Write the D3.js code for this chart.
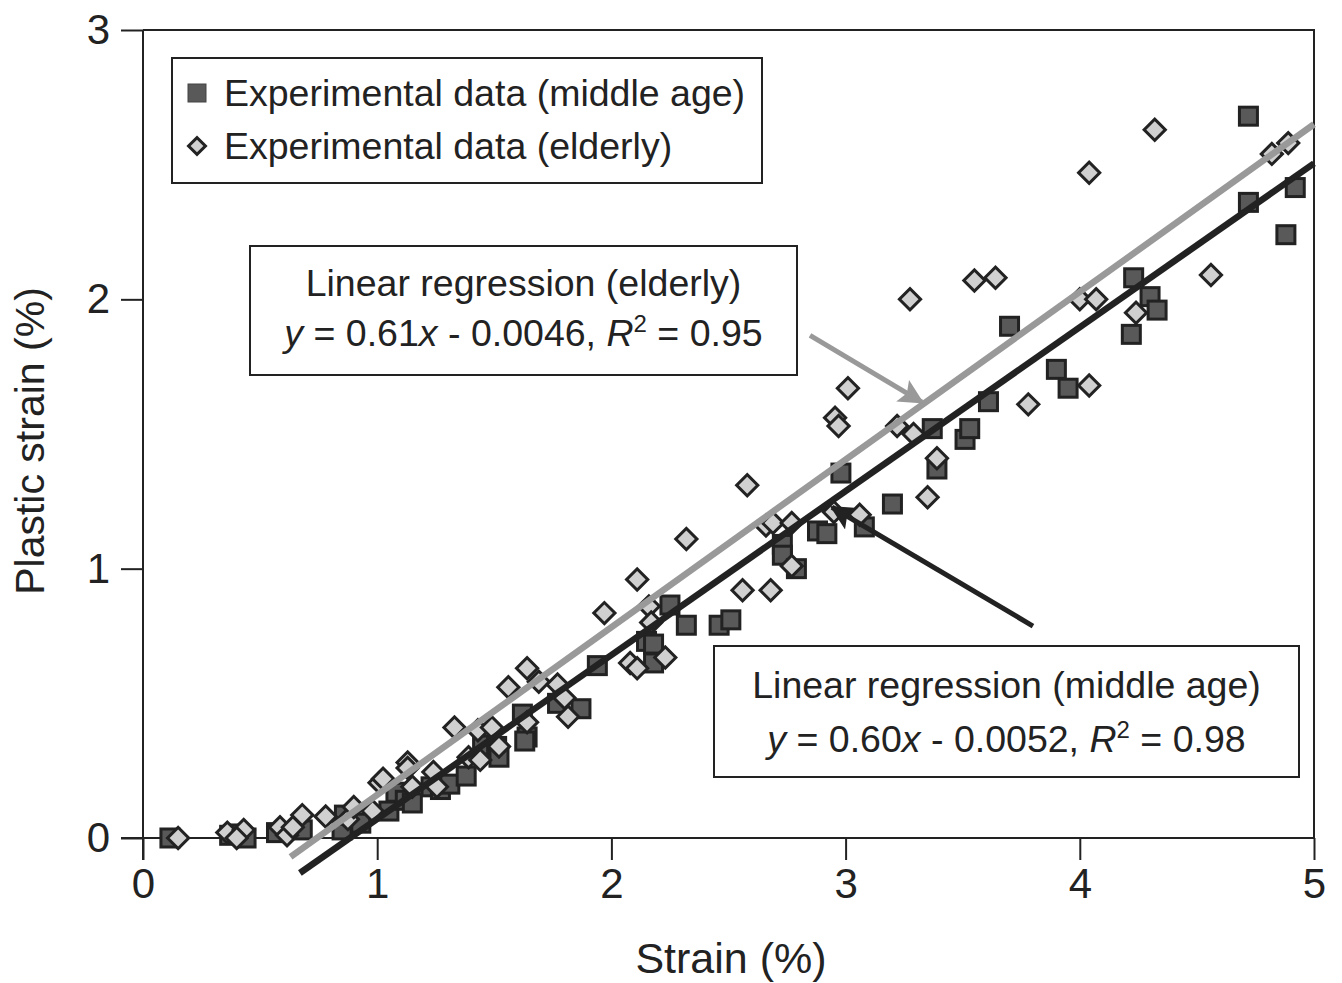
<!DOCTYPE html>
<html>
<head>
<meta charset="utf-8">
<script src="https://cdn.jsdelivr.net/npm/d3@7"></script>
<style>
  body { margin: 0; background: #fff; }
  svg text { font-family: "Liberation Sans", Arial, sans-serif; fill: #222; }
</style>
</head>
<body>
<svg id="chart" width="1342" height="983"></svg>
<script>
// strain (%) / plastic strain (%) pairs
var middleAgeX = [0.115, 0.37, 0.41, 0.44, 0.57, 0.68, 0.85, 0.86, 0.93, 1.05, 1.08, 1.12, 1.15, 1.23, 1.27, 1.31, 1.38,
  1.45, 1.51, 1.52, 1.62, 1.64, 1.63, 1.77, 1.87, 1.94, 2.15, 2.18, 2.18, 2.25, 2.32, 2.46, 2.51, 2.73, 2.73, 2.79,
  2.88, 2.92, 2.98, 3.08, 3.20, 3.37, 3.39, 3.51, 3.53, 3.61, 3.70, 3.90, 3.95, 4.23, 4.30, 4.33, 4.22, 4.72, 4.72, 4.92, 4.88];
var middleAgeY = [0.00, 0.01, 0.015, 0.00, 0.02, 0.03, 0.03, 0.085, 0.055, 0.10, 0.17, 0.14, 0.13, 0.19, 0.18, 0.20, 0.23,
  0.345, 0.34, 0.30, 0.46, 0.375, 0.36, 0.50, 0.48, 0.64, 0.73, 0.72, 0.65, 0.865, 0.79, 0.79, 0.81, 1.09, 1.05, 1.00,
  1.14, 1.13, 1.355, 1.155, 1.24, 1.52, 1.37, 1.48, 1.52, 1.62, 1.90, 1.74, 1.67, 2.08, 2.01, 1.96, 1.87, 2.68, 2.36, 2.415, 2.24];

var elderlyX = [0.15, 0.36, 0.43, 0.40, 0.585, 0.615, 0.64, 0.68, 0.78, 0.875, 0.90, 0.98, 1.01, 1.025, 1.13, 1.13, 1.15,
  1.24, 1.255, 1.33, 1.39, 1.43, 1.44, 1.49, 1.52, 1.56, 1.64, 1.64, 1.69, 1.77, 1.80, 1.815, 1.97, 2.08, 2.11, 2.11,
  2.16, 2.17, 2.23, 2.32, 2.56, 2.58, 2.66, 2.69, 2.68, 2.77, 2.77, 2.95, 2.955, 2.97, 3.01, 3.06, 3.22, 3.29, 3.35,
  3.39, 3.275, 3.55, 3.64, 3.78, 4.00, 4.07, 4.04, 4.04, 4.24, 4.32, 4.56, 4.82, 4.89];
var elderlyY = [0.00, 0.02, 0.03, 0.00, 0.04, 0.01, 0.04, 0.085, 0.08, 0.07, 0.115, 0.10, 0.205, 0.22, 0.28, 0.26, 0.19,
  0.245, 0.19, 0.41, 0.30, 0.40, 0.29, 0.41, 0.34, 0.56, 0.63, 0.43, 0.58, 0.57, 0.52, 0.45, 0.835, 0.65, 0.63, 0.96,
  0.86, 0.80, 0.67, 1.11, 0.92, 1.31, 1.16, 1.17, 0.92, 1.17, 1.01, 1.21, 1.56, 1.53, 1.67, 1.20, 1.53, 1.50, 1.265,
  1.41, 2.00, 2.07, 2.08, 1.61, 2.00, 2.00, 1.68, 2.47, 1.95, 2.63, 2.09, 2.54, 2.58];

// fitted lines as drawn (end points in data units)
var elderlyFitX = [0.63, 5];
var elderlyFitY = [-0.07, 2.65];
var middleFitX = [0.67, 5];
var middleFitY = [-0.13, 2.505];

var xTicks = [0, 1, 2, 3, 4, 5];
var yTicks = [0, 1, 2, 3];
var legendLabels = ['Experimental data (middle age)', 'Experimental data (elderly)'];

var svg = d3.select('#chart');
var margin = {top: 30, right: 28, bottom: 145, left: 143};
var width = 1342 - margin.left - margin.right;
var height = 983 - margin.top - margin.bottom;

var x = d3.scaleLinear().domain([0, 5]).range([0, width]);
var y = d3.scaleLinear().domain([0, 3]).range([height, 0]);

var g = svg.append('g').attr('transform', 'translate(' + margin.left + ',' + margin.top + ')');
var ink = '#222';

// frame (top and right)
g.append('path')
  .attr('d', 'M0,0H' + width + 'V' + height)
  .attr('fill', 'none').attr('stroke', ink).attr('stroke-width', 2);

var xAxis = g.append('g').attr('transform', 'translate(0,' + height + ')')
  .call(d3.axisBottom(x).tickValues(xTicks).tickSize(22).tickPadding(8).tickFormat(d3.format('d')));
var yAxis = g.append('g')
  .call(d3.axisLeft(y).tickValues(yTicks).tickSize(22).tickPadding(11).tickFormat(d3.format('d')));

[xAxis, yAxis].forEach(function(a) {
  a.select('.domain').attr('stroke', ink).attr('stroke-width', 2);
  a.selectAll('line').attr('stroke', ink).attr('stroke-width', 2);
  a.selectAll('text').attr('font-size', 42).attr('fill', ink)
    .style('font-family', '"Liberation Sans", Arial, sans-serif');
});
// extend axis lines out to tick length like the original
xAxis.select('.domain').attr('d', 'M-22,0H' + width);
yAxis.select('.domain').attr('d', 'M0,' + (height + 22) + 'V0');

svg.append('text')
  .attr('x', 731).attr('y', 973)
  .attr('text-anchor', 'middle').attr('font-size', 43)
  .text('Strain (%)');
svg.append('text')
  .attr('transform', 'translate(44,' + 441 + ') rotate(-90)')
  .attr('text-anchor', 'middle').attr('font-size', 41)
  .text('Plastic strain (%)');

// markers
var sq = 18, dm = 15;
g.selectAll('rect.mid').data(d3.range(middleAgeX.length)).join('rect')
  .attr('class', 'mid')
  .attr('x', function(i) { return x(middleAgeX[i]) - sq / 2; })
  .attr('y', function(i) { return y(middleAgeY[i]) - sq / 2; })
  .attr('width', sq).attr('height', sq)
  .attr('fill', '#595959').attr('stroke', ink).attr('stroke-width', 3);

g.selectAll('rect.eld').data(d3.range(elderlyX.length)).join('rect')
  .attr('class', 'eld')
  .attr('transform', function(i) {
    return 'translate(' + x(elderlyX[i]) + ',' + y(elderlyY[i]) + ') rotate(45)';
  })
  .attr('x', -dm / 2).attr('y', -dm / 2)
  .attr('width', dm).attr('height', dm)
  .attr('fill', '#d0d0d0').attr('stroke', ink).attr('stroke-width', 3);

// regression lines
var line = d3.line().x(function(d) { return x(d[0]); }).y(function(d) { return y(d[1]); });
g.append('path').datum(d3.zip(elderlyFitX, elderlyFitY)).attr('d', line)
  .attr('fill', 'none').attr('stroke', '#999').attr('stroke-width', 6.5);
g.append('path').datum(d3.zip(middleFitX, middleFitY)).attr('d', line)
  .attr('fill', 'none').attr('stroke', ink).attr('stroke-width', 6.5);

// arrows
var defs = svg.append('defs');
[['grayHead', '#999'], ['darkHead', ink]].forEach(function(m) {
  defs.append('marker').attr('id', m[0])
    .attr('viewBox', '0 0 10 10').attr('refX', 9).attr('refY', 5)
    .attr('markerWidth', 6).attr('markerHeight', 5).attr('orient', 'auto')
    .attr('markerUnits', 'strokeWidth')
    .append('path').attr('d', 'M0,0L10,5L0,10L2,5Z').attr('fill', m[1]);
});
var arrows = [
  {from: [2.848, 1.866], to: [3.326, 1.618], color: '#999', head: 'grayHead'},
  {from: [3.80, 0.787], to: [2.942, 1.228], color: ink, head: 'darkHead'}
];
arrows.forEach(function(a) {
  g.append('line')
    .attr('x1', x(a.from[0])).attr('y1', y(a.from[1]))
    .attr('x2', x(a.to[0])).attr('y2', y(a.to[1]))
    .attr('stroke', a.color).attr('stroke-width', 5)
    .attr('marker-end', 'url(#' + a.head + ')');
});

// legend
var leg = svg.append('g').attr('transform', 'translate(172,58)');
leg.append('rect').attr('width', 590).attr('height', 125)
  .attr('fill', '#fff').attr('stroke', ink).attr('stroke-width', 2);
leg.append('rect').attr('x', 16).attr('y', 26).attr('width', 18).attr('height', 18)
  .attr('fill', '#595959').attr('stroke', '#444').attr('stroke-width', 1);
leg.append('rect').attr('transform', 'translate(25,88) rotate(45)')
  .attr('x', -6).attr('y', -6).attr('width', 12).attr('height', 12)
  .attr('fill', '#d0d0d0').attr('stroke', ink).attr('stroke-width', 3);
legendLabels.forEach(function(t, i) {
  leg.append('text').attr('x', 52).attr('y', 48 + i * 53).attr('font-size', 37.5).text(t);
});

// equation boxes
function eqBox(px, py, w, h, l1, l2, title, slope, icpt, r2) {
  var b = svg.append('g').attr('transform', 'translate(' + px + ',' + py + ')');
  b.append('rect').attr('width', w).attr('height', h)
    .attr('fill', '#fff').attr('stroke', ink).attr('stroke-width', 2);
  b.append('text').attr('x', w / 2).attr('y', l1).attr('text-anchor', 'middle')
    .attr('font-size', 37.5).text(title);
  var t = b.append('text').attr('x', w / 2).attr('y', l2).attr('text-anchor', 'middle').attr('font-size', 37.5);
  t.append('tspan').attr('font-style', 'italic').text('y');
  t.append('tspan').text(' = ' + slope);
  t.append('tspan').attr('font-style', 'italic').text('x');
  t.append('tspan').text(' - ' + icpt + ', ');
  t.append('tspan').attr('font-style', 'italic').text('R');
  t.append('tspan').attr('font-size', 24).attr('dy', -14).text('2');
  t.append('tspan').attr('dy', 14).text(' = ' + r2);
}
eqBox(250, 246, 547, 129, 50, 100, 'Linear regression (elderly)', '0.61', '0.0046', '0.95');
eqBox(714, 646, 585, 131, 52, 106, 'Linear regression (middle age)', '0.60', '0.0052', '0.98');
</script>
</body>
</html>
